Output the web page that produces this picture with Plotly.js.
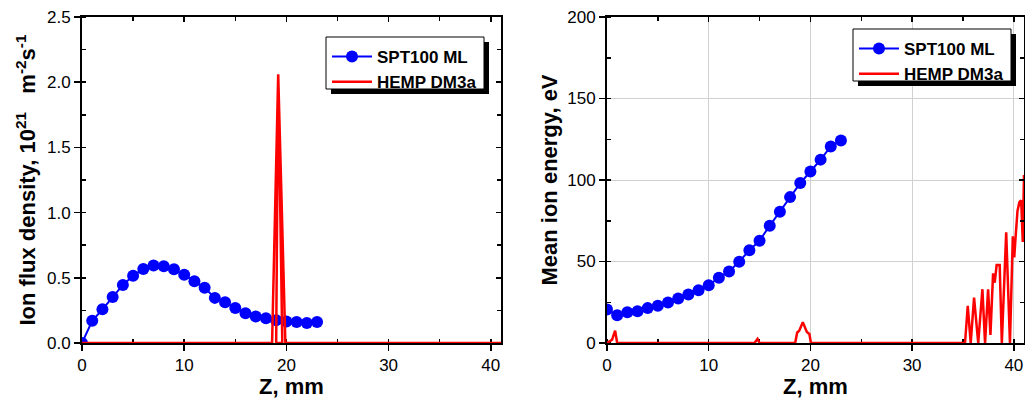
<!DOCTYPE html>
<html>
<head>
<meta charset="utf-8">
<script src="https://cdn.plot.ly/plotly-3.0.1.min.js"></script>
<style>html,body{margin:0;padding:0;background:#fff;}#chart{width:1025px;height:399px;}</style>
</head>
<body>
<div id="chart"></div>
<script>
// ---- Data ----
const sptZ = [0,1,2,3,4,5,6,7,8,9,10,11,12,13,14,15,16,17,18,19,20,21,22,23];
const sptFlux = [0.0,0.17,0.258,0.352,0.445,0.516,0.568,0.594,0.589,0.565,0.523,0.474,0.424,0.346,0.313,0.268,0.229,0.203,0.19,0.174,0.164,0.161,0.154,0.161];
const sptEnergy = [20.5,17.0,18.9,19.5,21.4,22.8,24.8,27.3,29.8,32.4,35.5,40.0,43.9,49.9,56.9,62.8,71.9,80.5,89.5,98.1,105.2,112.5,120.6,124.3];

const hempFluxZ = [0,18.6,19.2,19.6,19.0,19.2,19.9,41];
const hempFlux  = [0,0,2.06,0,0,2.06,0,0];

const hempEnergyZ = [0,0.5,0.8,1.0,14.5,14.8,15.0,18.5,18.7,18.9,19.25,19.65,19.9,20.05,35.2,35.47,35.76,36.09,36.5,36.91,37.17,37.47,37.7,37.96,38.12,38.31,38.61,38.82,39.25,39.62,39.9,40.04,40.18,40.36,40.55,40.72,40.88,41.0];
const hempEnergy  = [0,2,7.5,0,0,2.5,0,0,6.5,7.5,12.8,6.8,5.5,0,0,22.8,0,27.9,0,33,0,33,5,42.7,37,47.8,47.8,0,67.9,0,65.5,52.5,65.5,81,86.4,87.6,62,103];

const seriesNames = ['SPT100 ML','HEMP DM3a'];
const blue = '#0000ff', red = '#ff0000';

// ---- Layout geometry ----
const W = 1025, H = 399;
const mL = 82, mR = 1, mT = 17, mB = 56;
const pw = W - mL - mR, ph = H - mT - mB;
const px = v => (v - mL) / pw;
const py = v => (H - mB - v) / ph;
const dom1 = [0, px(501)], dom2 = [px(607), 1];

const FONT = 'Liberation Sans, Arial, sans-serif';
const tickFont = {family: FONT, size: 17, color: '#000'};
const titleFont = {family: FONT, size: 22, color: '#000', weight: 'bold'};

function mainX(domain, anchor, grid){
  return {domain, anchor, range:[0,41], dtick:10, tick0:0, ticks:'outside', ticklen:6, tickwidth:1.5, tickcolor:'#000',
    showline:true, linecolor:'#000', linewidth:2, mirror:true, zeroline:false, showgrid:grid, gridcolor:'#d0d0d0', gridwidth:1,
    minor:{dtick:5, tick0:0, ticks:'inside', ticklen:4, tickwidth:1.5, tickcolor:'#000', showgrid:false},
    tickfont:tickFont, layer:'below traces',
    title:{text:'Z, mm', font:titleFont, standoff:7}};
}
function mainY(domain, anchor, range, dtick, fmt, title, grid, standoff){
  return {domain, anchor, range, dtick, tick0:0, tickformat:fmt, ticks:'outside', ticklen:6, tickwidth:1.5, tickcolor:'#000',
    showline:true, linecolor:'#000', linewidth:2, mirror:true, zeroline:false, showgrid:grid, gridcolor:'#d0d0d0', gridwidth:1,
    minor:{dtick:dtick/2, tick0:0, ticks:'inside', ticklen:4, tickwidth:1.5, tickcolor:'#000', showgrid:false},
    tickfont:tickFont, layer:'below traces',
    title:{text:title, font:titleFont, standoff}};
}
function mirrorX(ov, domain, anchor){
  return {overlaying:ov, matches:ov, side:'top', anchor, domain, range:[0,41], dtick:10, tick0:0, ticks:'inside', ticklen:5, tickwidth:1.5, tickcolor:'#000',
    showticklabels:false, showgrid:false, zeroline:false, showline:false,
    minor:{dtick:5, tick0:0, ticks:'inside', ticklen:4, tickwidth:1.5, tickcolor:'#000'}};
}
function mirrorY(ov, domain, anchor, range, dtick){
  return {overlaying:ov, matches:ov, side:'right', anchor, domain, range, dtick, tick0:0, ticks:'inside', ticklen:5, tickwidth:1.5, tickcolor:'#000',
    showticklabels:false, showgrid:false, zeroline:false, showline:false,
    minor:{dtick:dtick/2, tick0:0, ticks:'inside', ticklen:4, tickwidth:1.5, tickcolor:'#000'}};
}

const traces = [
  {x:sptZ, y:sptFlux, xaxis:'x', yaxis:'y', name:seriesNames[0], legend:'legend', type:'scatter', mode:'lines+markers',
   line:{color:blue, width:2}, marker:{color:blue, size:12}},
  {x:hempFluxZ, y:hempFlux, xaxis:'x', yaxis:'y', name:seriesNames[1], legend:'legend', type:'scatter', mode:'lines',
   line:{color:red, width:2.5}},
  {x:sptZ, y:sptEnergy, xaxis:'x2', yaxis:'y2', name:seriesNames[0], legend:'legend2', type:'scatter', mode:'lines+markers',
   line:{color:blue, width:2}, marker:{color:blue, size:12}},
  {x:hempEnergyZ, y:hempEnergy, xaxis:'x2', yaxis:'y2', name:seriesNames[1], legend:'legend2', type:'scatter', mode:'lines',
   line:{color:red, width:2.5}},
  // invisible traces to activate mirror axes
  {x:[0], y:[0], xaxis:'x3', yaxis:'y3', showlegend:false, hoverinfo:'skip', mode:'markers', marker:{opacity:0}},
  {x:[0], y:[0], xaxis:'x4', yaxis:'y4', showlegend:false, hoverinfo:'skip', mode:'markers', marker:{opacity:0}}
];

function legendBox(x0, y0, x1, y1){
  const s = 5;
  return [
    {type:'rect', xref:'paper', yref:'paper', layer:'above', x0:px(x0+s), x1:px(x1+s), y0:py(y0+s), y1:py(y1+s), fillcolor:'#000', line:{width:0}},
    {type:'rect', xref:'paper', yref:'paper', layer:'above', x0:px(x0), x1:px(x1), y0:py(y0), y1:py(y1), fillcolor:'#fff', line:{color:'#000', width:1}}
  ];
}

const legFont = {family: FONT, size: 17, color:'#000', weight:'bold'};
const layout = {
  width:W, height:H, margin:{l:mL, r:mR, t:mT, b:mB},
  paper_bgcolor:'#fff', plot_bgcolor:'rgba(0,0,0,0)', showlegend:true,
  xaxis: mainX(dom1, 'y', false),
  yaxis: mainY([0,1], 'x', [0,2.5], 0.5, '.1f', 'Ion flux density, 10<sup>21</sup>\u00a0\u00a0 m<sup>-2</sup>s<sup>-1</sup>', false, 5),
  xaxis2: mainX(dom2, 'y2', true),
  yaxis2: mainY([0,1], 'x2', [0,200], 50, 'd', 'Mean ion energy, eV', true, 4),
  xaxis3: mirrorX('x', dom1, 'y3'),
  yaxis3: mirrorY('y', [0,1], 'x3', [0,2.5], 0.5),
  xaxis4: mirrorX('x2', dom2, 'y4'),
  yaxis4: mirrorY('y2', [0,1], 'x4', [0,200], 50),
  legend:{x:px(327), y:py(39), xanchor:'left', yanchor:'top', bgcolor:'rgba(0,0,0,0)', borderwidth:0, font:legFont, itemwidth:40, tracegroupgap:0},
  legend2:{x:px(854), y:py(31), xanchor:'left', yanchor:'top', bgcolor:'rgba(0,0,0,0)', borderwidth:0, font:legFont, itemwidth:40, tracegroupgap:0},
  shapes: [].concat(legendBox(326,37,484,89), legendBox(853,29,1011,81))
};

Plotly.newPlot('chart', traces, layout, {displayModeBar:false, staticPlot:true});
</script>
</body>
</html>
